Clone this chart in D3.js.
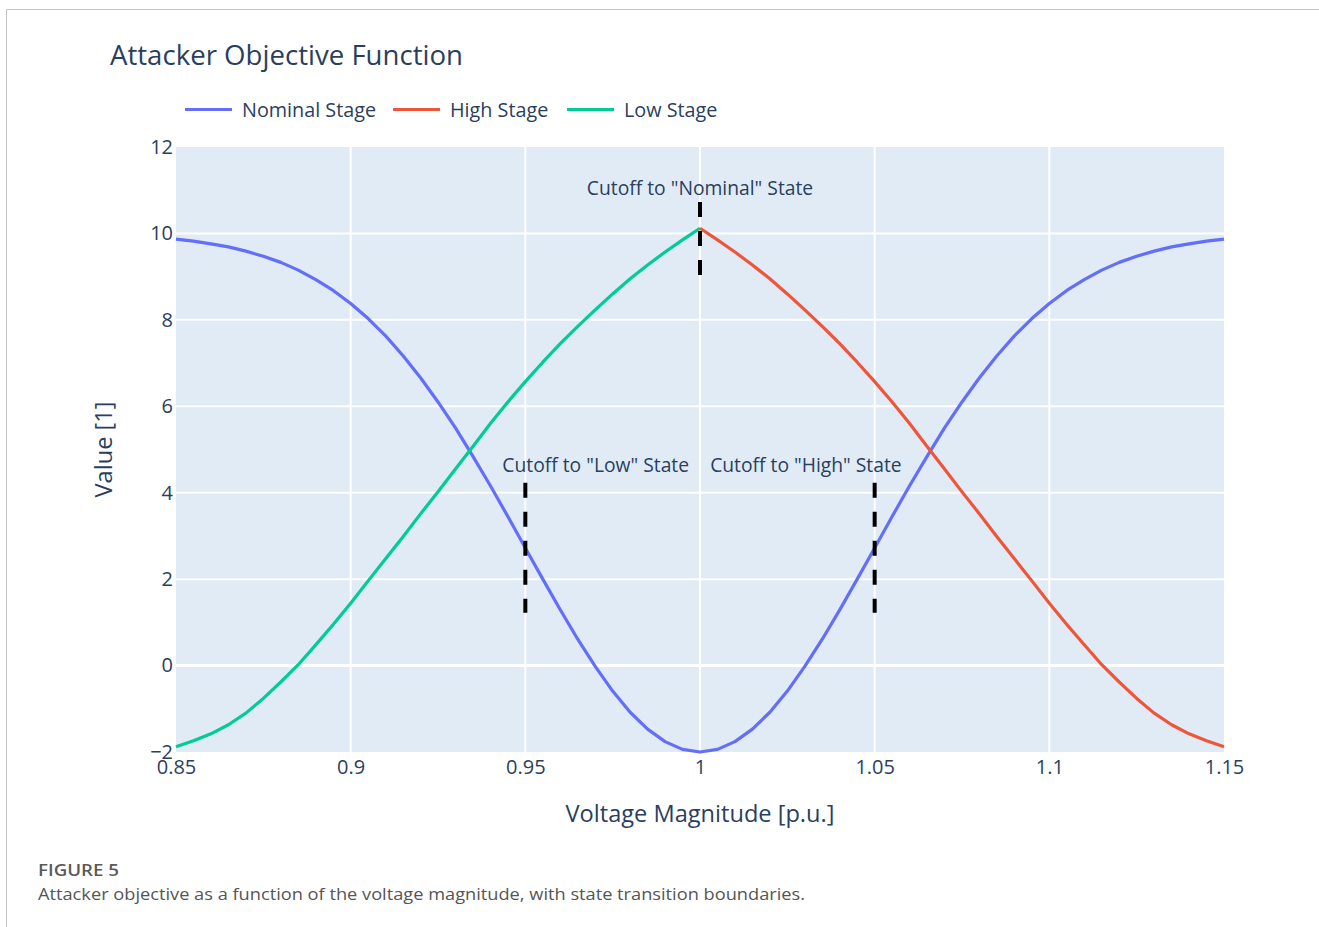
<!DOCTYPE html>
<html>
<head>
<meta charset="utf-8">
<script src="https://cdn.jsdelivr.net/npm/d3@7"></script>
<style>
  body { margin: 0; background: #fff; }
  svg { display: block; font-family: "Open Sans", "Noto Sans", sans-serif; }
</style>
</head>
<body>
<div id="graph"></div>
<script>
// Data
const nominalX = d3.range(61).map(i => +(0.85 + i * 0.005).toFixed(3));
const nominalY = [
  9.87, 9.82, 9.76, 9.69, 9.59, 9.47, 9.33, 9.15, 8.93, 8.68,
  8.38, 8.03, 7.63, 7.17, 6.66, 6.10, 5.50, 4.84, 4.16, 3.45,
  2.72, 2.00, 1.29, 0.61, -0.02, -0.59, -1.08, -1.47, -1.76, -1.94,
  -2.00,
  -1.94, -1.76, -1.47, -1.08, -0.59, -0.02, 0.61, 1.29, 2.00, 2.72,
  3.45, 4.16, 4.84, 5.50, 6.10, 6.66, 7.17, 7.63, 8.03, 8.38,
  8.68, 8.93, 9.15, 9.33, 9.47, 9.59, 9.69, 9.76, 9.82, 9.87
];
const lowX = d3.range(31).map(i => +(0.85 + i * 0.005).toFixed(3));
const lowY = [
  -1.88, -1.74, -1.58, -1.37, -1.10, -0.76, -0.38, 0.02, 0.48, 0.95,
  1.44, 1.96, 2.47, 2.98, 3.51, 4.02, 4.55, 5.07, 5.60, 6.10,
  6.57, 7.02, 7.45, 7.85, 8.23, 8.60, 8.95, 9.27, 9.57, 9.85,
  10.12
];
const highX = d3.range(31).map(i => +(1.0 + i * 0.005).toFixed(3));
const highY = [
  10.12, 9.85, 9.57, 9.27, 8.95, 8.60, 8.23, 7.85, 7.45, 7.02,
  6.57, 6.10, 5.60, 5.07, 4.55, 4.02, 3.51, 2.98, 2.47, 1.96,
  1.44, 0.95, 0.48, 0.02, -0.38, -0.76, -1.10, -1.37, -1.58, -1.74,
  -1.88
];
const seriesNames = ["Nominal Stage", "High Stage", "Low Stage"];
const xTicks = [0.85, 0.9, 0.95, 1, 1.05, 1.1, 1.15];
const yTicks = [-2, 0, 2, 4, 6, 8, 10, 12];
// cutoff markers: x, y from, y to, label
const cutoffX = [1.0, 0.95, 1.05];
const cutoffY0 = [9.0, 1.22, 1.22];
const cutoffY1 = [10.73, 4.23, 4.23];
const cutoffLabels = ['Cutoff to "Nominal" State', 'Cutoff to "Low" State', 'Cutoff to "High" State'];

const colors = ["#636efa", "#ef553b", "#00cc96"];
const textColor = "#2a3f5f";

const width = 1319, height = 927;
const margin = { top: 147, right: 95, bottom: 175, left: 176 };

const svg = d3.select('#graph').append('svg')
  .attr('width', width)
  .attr('height', height);

// figure frame (journal page border)
svg.append('path')
  .attr('d', `M6.5,${height} V9.5 H${width}`)
  .attr('fill', 'none')
  .attr('stroke', '#c4c4c4')
  .attr('stroke-width', 1);

const x = d3.scaleLinear().domain([0.85, 1.15]).range([margin.left, width - margin.right]);
const y = d3.scaleLinear().domain([-2, 12]).range([height - margin.bottom, margin.top]);

// plot background
svg.append('rect')
  .attr('x', x(0.85)).attr('y', y(12))
  .attr('width', x(1.15) - x(0.85)).attr('height', y(-2) - y(12))
  .attr('fill', '#e0ebf5');

// grid
svg.append('g').selectAll('line')
  .data(xTicks.slice(1, -1))
  .join('line')
  .attr('x1', d => x(d)).attr('x2', d => x(d))
  .attr('y1', y(12)).attr('y2', y(-2))
  .attr('stroke', '#fff').attr('stroke-width', 2);

svg.append('g').selectAll('line')
  .data(yTicks.slice(1, -1))
  .join('line')
  .attr('x1', x(0.85)).attr('x2', x(1.15))
  .attr('y1', d => y(d)).attr('y2', d => y(d))
  .attr('stroke', '#fff').attr('stroke-width', d => d === 0 ? 3 : 2);

// axes (labels only)
const xAxis = svg.append('g')
  .attr('transform', `translate(0, ${y(-2)})`)
  .call(d3.axisBottom(x).tickValues(xTicks).tickFormat(d3.format('')).tickSize(0).tickPadding(3));
const yAxis = svg.append('g')
  .attr('transform', `translate(${x(0.85)}, 0)`)
  .call(d3.axisLeft(y).tickValues(yTicks).tickSize(0).tickPadding(3));
[xAxis, yAxis].forEach(a => {
  a.select('.domain').remove();
  a.selectAll('text')
    .attr('fill', textColor)
    .style('font-size', '20px')
    .style('font-family', '"Open Sans", sans-serif');
});
xAxis.selectAll('text').attr('dy', '0.95em');

// series lines
const line = d3.line().x(d => x(d[0])).y(d => y(d[1]));
const series = [
  d3.zip(nominalX, nominalY),
  d3.zip(highX, highY),
  d3.zip(lowX, lowY)
];
svg.append('g').selectAll('path')
  .data(series)
  .join('path')
  .attr('d', line)
  .attr('fill', 'none')
  .attr('stroke', (d, i) => colors[i])
  .attr('stroke-width', 3.2)
  .attr('stroke-linejoin', 'round');

// cutoff dashed markers
svg.append('g').selectAll('line')
  .data(cutoffX)
  .join('line')
  .attr('x1', d => x(d)).attr('x2', d => x(d))
  .attr('y1', (d, i) => y(cutoffY1[i])).attr('y2', (d, i) => y(cutoffY0[i]))
  .attr('stroke', '#000')
  .attr('stroke-width', 4)
  .attr('stroke-dasharray', '15,14');

const labelAnchor = ['middle', 'start', 'end'];
const labelShift = [0, -23, 27];
const labelLift = [7, 11, 11];
svg.append('g').selectAll('text')
  .data(cutoffLabels)
  .join('text')
  .attr('x', (d, i) => x(cutoffX[i]) + labelShift[i])
  .attr('y', (d, i) => y(cutoffY1[i]) - labelLift[i])
  .attr('text-anchor', (d, i) => labelAnchor[i])
  .attr('fill', textColor)
  .style('font-size', '19.3px')
  .text(d => d);

// title
svg.append('text')
  .attr('x', 110).attr('y', 65)
  .attr('fill', textColor)
  .style('font-size', '27.6px')
  .text('Attacker Objective Function');

// axis titles
svg.append('text')
  .attr('x', x(1)).attr('y', 822)
  .attr('text-anchor', 'middle')
  .attr('fill', textColor)
  .style('font-size', '23.6px')
  .text('Voltage Magnitude [p.u.]');

svg.append('text')
  .attr('transform', `translate(112, ${(y(12) + y(-2)) / 2}) rotate(-90)`)
  .attr('text-anchor', 'middle')
  .attr('fill', textColor)
  .style('font-size', '23.6px')
  .text('Value [1]');

// legend
const legendX = [185, 393, 567];
const legend = svg.append('g').selectAll('g')
  .data(seriesNames)
  .join('g')
  .attr('transform', (d, i) => `translate(${legendX[i]}, 109.5)`);
legend.append('line')
  .attr('x1', 0).attr('x2', 47)
  .attr('stroke', (d, i) => colors[i])
  .attr('stroke-width', 3.2);
legend.append('text')
  .attr('x', 57).attr('y', 7.5)
  .attr('fill', textColor)
  .style('font-size', '19.8px')
  .text(d => d);

// caption
svg.append('text')
  .attr('x', 38).attr('y', 876)
  .attr('fill', '#5a5a5a')
  .style('font-size', '17px')
  .style('font-weight', 600)
  .attr('textLength', 81).attr('lengthAdjust', 'spacingAndGlyphs')
  .text('FIGURE 5');
svg.append('text')
  .attr('x', 38).attr('y', 900)
  .attr('fill', '#555')
  .style('font-size', '17px')
  .attr('textLength', 767).attr('lengthAdjust', 'spacingAndGlyphs')
  .text('Attacker objective as a function of the voltage magnitude, with state transition boundaries.');
</script>
</body>
</html>
